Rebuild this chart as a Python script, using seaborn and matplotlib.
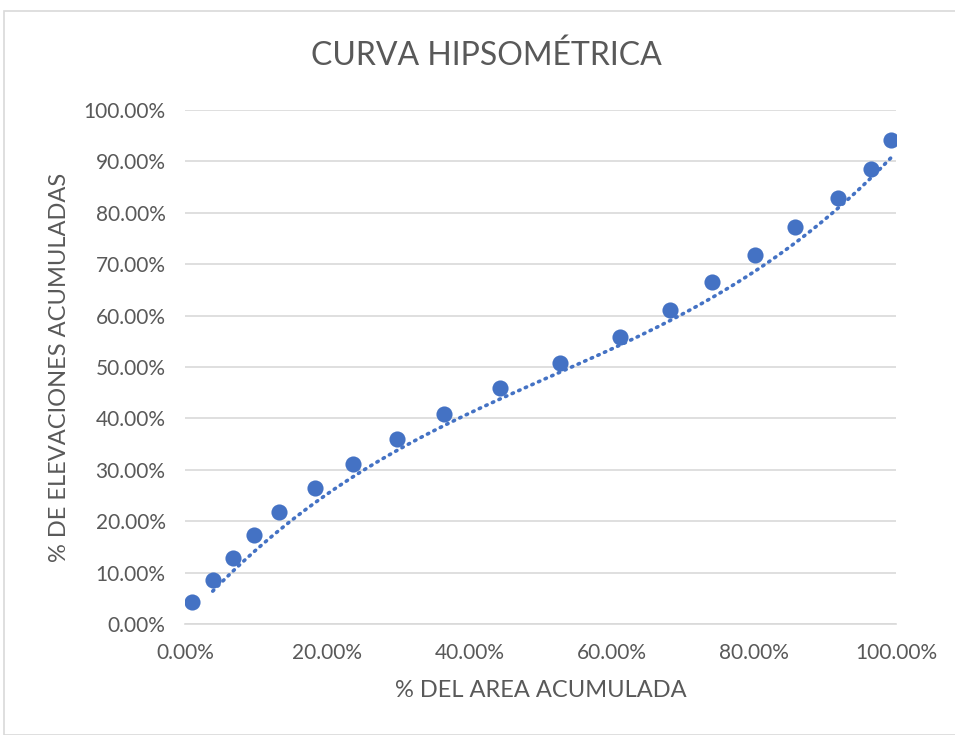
import numpy as np
import pandas as pd
import matplotlib
matplotlib.use("Agg")
import matplotlib.pyplot as plt
import seaborn as sns
from matplotlib.ticker import FuncFormatter
from matplotlib.patches import Rectangle

area_pct = [0.010, 0.039, 0.0675, 0.097, 0.132, 0.183, 0.236, 0.298, 0.364, 0.443,
            0.527, 0.612, 0.682, 0.741, 0.802, 0.858, 0.918, 0.965, 0.993]
elev_pct = [0.043, 0.086, 0.128, 0.173, 0.218, 0.265, 0.311, 0.360, 0.409, 0.459,
            0.508, 0.558, 0.611, 0.665, 0.718, 0.772, 0.829, 0.885, 0.942]

# dotted trendline at a few x positions
trend_x = [0.039, 0.20, 0.40, 0.60, 0.80, 0.993]
trend_y = [0.062, 0.257, 0.410, 0.528, 0.692, 0.905]

title = "CURVA HIPSOMÉTRICA"
xlabel = "% DEL AREA ACUMULADA"
ylabel = "% DE ELEVACIONES ACUMULADAS"

df = pd.DataFrame({"area": area_pct, "elev": elev_pct})

sns.set_theme(style="white")
plt.rcParams['font.family'] = ['Lato', 'DejaVu Sans']

fig = plt.figure(figsize=(9.55, 7.35), dpi=100)
fig.patches.append(Rectangle((4/955, 0), 1.0, 1 - 11/735, transform=fig.transFigure,
                             fill=False, edgecolor="#D9D9D9", linewidth=1.2))
ax = fig.add_axes([185/955, 1 - 624/735, (896 - 185)/955, (624 - 110)/735])

blue = "#4472C4"
grey = "#595959"

# smooth polynomial (order 3) trendline through the read trend values
coef = np.polyfit(trend_x, trend_y, 3)
xt = np.linspace(trend_x[0], trend_x[-1], 200)
trend = pd.DataFrame({"x": xt, "y": np.polyval(coef, xt)})
sns.lineplot(data=trend, x="x", y="y", ax=ax, color=blue, linewidth=2.6,
             linestyle=(0, (0.4, 1.6)), dash_capstyle="round", zorder=3)

sns.scatterplot(data=df, x="area", y="elev", ax=ax, s=135, color=blue,
                edgecolor=blue, linewidth=0, zorder=4)

ax.set_xlim(0, 1)
ax.set_ylim(0, 1)
ax.set_xticks(np.arange(0, 1.01, 0.2))
ax.set_yticks(np.arange(0, 1.01, 0.1))
fmt = FuncFormatter(lambda v, p: f"{v*100:.2f}%")
ax.xaxis.set_major_formatter(fmt)
ax.yaxis.set_major_formatter(fmt)
ax.grid(axis="y", color="#D9D9D9", linewidth=1.2)
ax.set_axisbelow(True)
for s in ["top", "right", "left"]:
    ax.spines[s].set_visible(False)
ax.spines["bottom"].set_color("#D9D9D9")
ax.spines["bottom"].set_linewidth(1.2)
ax.tick_params(axis="y", length=0, labelsize=15, labelcolor=grey, pad=14)
ax.tick_params(axis="x", length=0, labelsize=15, labelcolor=grey, pad=14)
ax.set_xlabel(xlabel, fontsize=17, color=grey, labelpad=12)
ax.set_ylabel(ylabel, fontsize=17, color=grey, labelpad=10)
fig.text(486/955, 1 - 56/735, title, ha="center", va="center", fontsize=23, color=grey)

fig.savefig("out.png", dpi=100)
